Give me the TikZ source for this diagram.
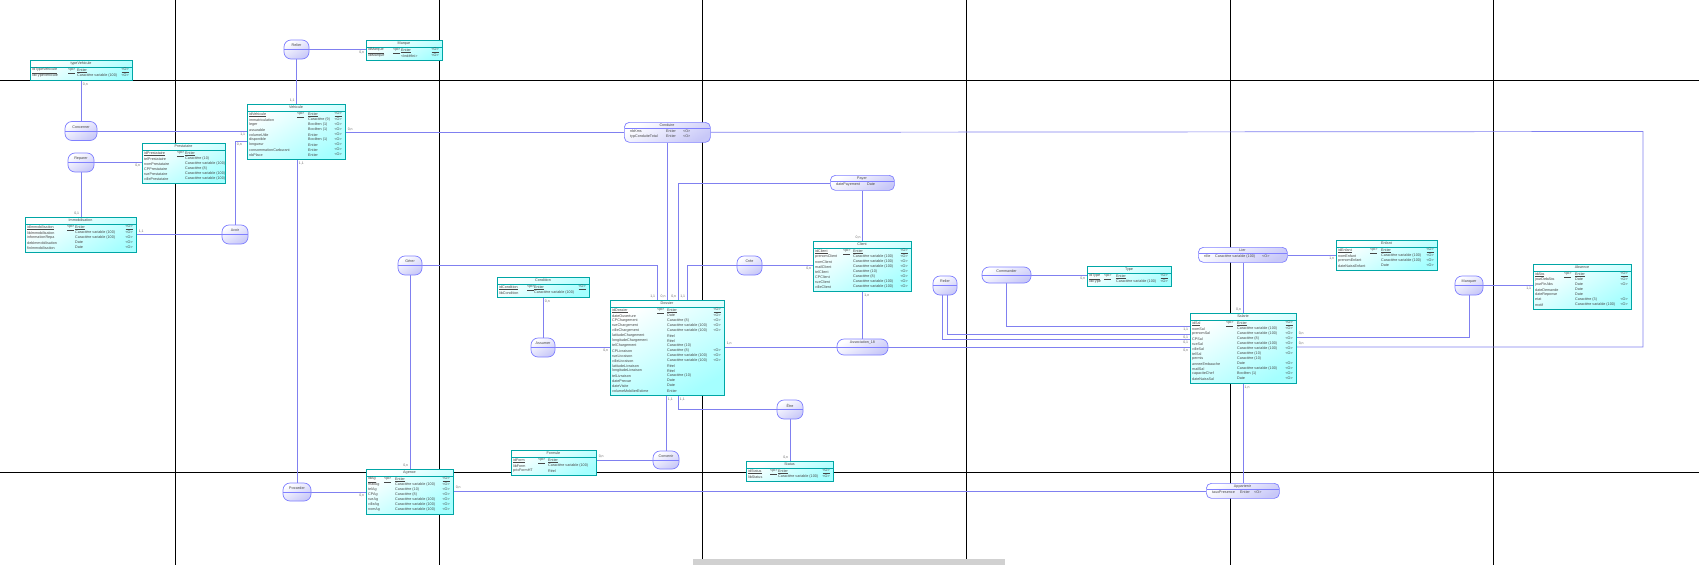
\documentclass[tikz,border=0pt]{standalone}
\usepackage{fontspec}
\setmainfont{Liberation Sans}
\usetikzlibrary{calc,backgrounds}

\definecolor{bordEnt}{RGB}{0,166,166}
\definecolor{fondEnt}{RGB}{165,255,255}
\definecolor{bordAsso}{RGB}{128,128,255}
\definecolor{fondAsso}{RGB}{200,200,248}
\definecolor{lienCol}{RGB}{128,128,240}
\definecolor{texte}{RGB}{70,70,70}
\definecolor{cardCol}{RGB}{110,110,110}

% entite: nom, x, y, largeur, titre, col pi, col type, lignes
\newcommand{\entite}[8]{%
  \gdef\nblignes{0}%
  \foreach \lig in {#8}{\xdef\nblignes{\the\numexpr\nblignes+1\relax}}%
  \node[entite, minimum width=#4, minimum height=10+5*\nblignes, anchor=north west] (#1) at (#2,#3) {};
  \node[titre] at ($(#1.north west)+(#4/2,3.5)$) {#5};
  \draw[draw=bordEnt, line width=.5pt] ($(#1.north west)+(0,6.8)$) -- ($(#1.north east)+(0,6.8)$);
  \foreach[count=\i] \nom/\typ/\obl in {#8}{%
    \ifnum\i=1
      \node[ligne] at ($(#1.north west)+(2,5.7+5*\i)$) {\underline{\nom}};
      \node[ligne] at ($(#1.north west)+(#6,5.7+5*\i)$) {\underline{<pi>}};
      \node[ligne] at ($(#1.north west)+(#7,5.7+5*\i)$) {\underline{\typ}};
      \node[ligne, anchor=east] at ($(#1.north east)+(-4,5.7+5*\i)$) {\underline{\obl}};
    \else
      \node[ligne] at ($(#1.north west)+(2,5.7+5*\i)$) {\nom};
      \node[ligne] at ($(#1.north west)+(#7,5.7+5*\i)$) {\typ};
      \node[ligne, anchor=east] at ($(#1.north east)+(-4,5.7+5*\i)$) {\obl};
    \fi}%
}

% association simple: nom, x, y (centre), largeur, hauteur, titre
\newcommand{\asso}[6]{%
  \node[asso, minimum width=#4, minimum height=#5] (#1) at (#2,#3) {};
  \draw[draw=bordAsso, line width=.5pt] (#1.west) -- (#1.east);
  \node[titre] at ($(#1)+(0,-4)$) {#6};
}

% association avec attributs: nom, x, y, largeur, titre, col type, col O, lignes
\newcommand{\assoattr}[8]{%
  \gdef\nblignes{0}%
  \foreach \lig in {#8}{\xdef\nblignes{\the\numexpr\nblignes+1\relax}}%
  \node[asso, rounded corners=5pt, minimum width=#4, minimum height=10+5*\nblignes, anchor=north west] (#1) at (#2,#3) {};
  \node[titre] at ($(#1.north west)+(#4/2,3.5)$) {#5};
  \draw[draw=bordAsso, line width=.5pt] ($(#1.north west)+(1,6.5)$) -- ($(#1.north east)+(-1,6.5)$);
  \foreach[count=\i] \nom/\typ/\obl in {#8}{%
    \node[ligne] at ($(#1.north west)+(6,4.5+5*\i)$) {\nom};
    \node[ligne] at ($(#1.north west)+(#6,4.5+5*\i)$) {\typ};
    \node[ligne] at ($(#1.north west)+(#7,4.5+5*\i)$) {\obl};}%
}

\begin{document}
\begin{tikzpicture}[x=1pt, y=-1pt,
    entite/.style={draw=bordEnt, line width=.9pt, top color=white, bottom color=fondEnt, shading angle=30, inner sep=0pt},
    asso/.style={draw=bordAsso, line width=.7pt, rounded corners=7pt, top color=white, bottom color=fondAsso, shading angle=30, inner sep=0pt},
    titre/.style={font=\fontsize{3.7}{4}\selectfont, text=texte, inner sep=0pt},
    ligne/.style={font=\fontsize{3.7}{4}\selectfont, text=texte, inner sep=0pt, anchor=west},
    lien/.style={draw=lienCol, line width=.7pt},
    card/.style={font=\fontsize{3.5}{4}\selectfont, text=cardCol, inner sep=1.5pt},
    grille/.style={draw=black, line width=1pt}
]
\useasboundingbox (0,0) rectangle (1699,565);

% Entites
\entite{typevehicule}{30}{60}{102}{typeVehicule}{38}{47}{idTypeVehicule/Entier/<O>, libTypeVehicule/Caractère variable (100)/<O>}
\entite{marque}{366}{40}{76}{Marque}{27}{35}{idMarque/Entier/<O>, libMarque/<Indéfini>/<O>}
\entite{vehicule}{247}{104}{98}{Vehicule}{50}{61}{idVehicule/Entier/<O>, immatriculation/Caractère (9)/<O>, leger/Booléen (1)/<O>, assurable/Booléen (1)/<O>, volumeUtile/Entier/<O>, disponible/Booléen (1)/<O>, longueur/Entier/<O>, consommationCarburant/Entier/<O>, nbPlace/Entier/<O>}
\entite{prestataire}{142}{143}{83}{Prestataire}{35}{43}{idPrestataire/Entier/{}, telPrestataire/Caractère (10)/{}, nomPrestataire/Caractère variable (100)/{}, CPPrestataire/Caractère (8)/{}, ruePrestataire/Caractère variable (100)/{}, villePrestataire/Caractère variable (100)/{}}
\entite{immobilisation}{25}{217}{111}{Immobilisation}{42}{50}{idImmobilisation/Entier/<O>, libImmobilisation/Caractère variable (100)/<O>, informationRepa/Caractère variable (100)/<O>, debImmobilisation/Date/<O>, finImmobilisation/Date/<O>}
\entite{condition}{497}{277}{92}{Condition}{30}{37}{idCondition/Entier/<O>, libCondition/Caractère variable (100)/{}}
\entite{dossier}{610}{300}{114}{Dossier}{47}{57}{idDossier/Entier/<O>, dateOuverture/Date/<O>, CPChargement/Caractère (8)/<O>, rueChargement/Caractère variable (100)/<O>, villeChargement/Caractère variable (100)/<O>, latitudeChargement/Réel/{}, longitudeChargement/Réel/{}, telChargement/Caractère (10)/{}, CPLivraison/Caractère (8)/<O>, rueLivraison/Caractère variable (100)/<O>, villeLivraison/Caractère variable (100)/<O>, latitudeLivraison/Réel/{}, longitudeLivraison/Réel/{}, telLivraison/Caractère (10)/{}, datePrevue/Date/{}, dateVisite/Date/{}, volumeMobilierEstime/Entier/{}}
\entite{client}{813}{241}{98}{Client}{30}{40}{idClient/Entier/<O>, prenomClient/Caractère variable (100)/<O>, nomClient/Caractère variable (100)/<O>, mailClient/Caractère variable (100)/<O>, telClient/Caractère (10)/<O>, CPClient/Caractère (8)/<O>, rueClient/Caractère variable (100)/<O>, villeClient/Caractère variable (100)/<O>}
\entite{status}{746}{461}{87}{Status}{24}{32}{idStatus/Entier/<O>, libStatus/Caractère variable (100)/<O>}
\entite{formule}{511}{450}{85}{Formule}{27}{37}{idForm/Entier/{}, libForm/Caractère variable (100)/{}, prixFormHT/Réel/{}}
\entite{agence}{366}{469}{87}{Agence}{18}{29}{idAg/Entier/<O>, mailAg/Caractère variable (100)/<O>, telAg/Caractère (10)/<O>, CPAg/Caractère (8)/<O>, rueAg/Caractère variable (100)/<O>, villeAg/Caractère variable (100)/<O>, nomAg/Caractère variable (100)/<O>}
\entite{typecmd}{1087}{266}{84}{Type}{17}{29}{idType/Entier/<O>, libType/Caractère variable (100)/<O>}
\entite{salarie}{1190}{313}{106}{Salarie}{36}{47}{idSal/Entier/<O>, nomSal/Caractère variable (100)/<O>, prenomSal/Caractère variable (100)/<O>, CPSal/Caractère (8)/<O>, rueSal/Caractère variable (100)/<O>, villeSal/Caractère variable (100)/<O>, telSal/Caractère (10)/<O>, permis/Caractère (10)/{}, anneeEmbauche/Date/<O>, mailSal/Caractère variable (100)/<O>, capaciteChef/Booléen (1)/<O>, dateNaissSal/Date/<O>}
\entite{enfant}{1336}{240}{101}{Enfant}{34}{45}{idEnfant/Entier/<O>, nomEnfant/Caractère variable (100)/<O>, prenomEnfant/Caractère variable (100)/<O>, dateNaissEnfant/Date/<O>}
\entite{absence}{1533}{264}{98}{Absence}{31}{42}{idAbs/Entier/<O>, jourDebAbs/Date/<O>, jourFinAbs/Date/<O>, dateDemande/Date/{}, dateReponse/Date/{}, etat/Caractère (3)/<O>, motif/Caractère variable (100)/<O>}

% Associations
\asso{concerner}{81}{131}{32}{19}{Concerner}
\asso{reparer}{81}{162.5}{26}{19}{Reparer}
\asso{avoir}{235}{234.5}{26}{19}{Avoir}
\asso{relier}{296.5}{49.5}{25}{19}{Relier}
\asso{posseder}{297}{492}{28}{18}{Posseder}
\asso{gerer}{410}{265.5}{24}{19}{Gérer}
\asso{assumer}{543}{347.5}{24}{19}{Assumer}
\asso{convenir}{666}{460}{26}{18}{Convenir}
\asso{etre}{790}{409.5}{26}{19}{Être}
\asso{cree}{749.5}{265.5}{25}{19}{Crée}
\asso{assoc18}{862.5}{347}{51}{16}{Association\_18}
\asso{relierSal}{945}{285.5}{24}{19}{Relier}
\asso{commander}{1006.5}{275}{49}{16}{Commander}
\asso{manquer}{1469}{285.5}{28}{19}{Manquer}
\assoattr{conduire}{624}{122}{86}{Conduire}{42}{59}{nbKms/Entier/<O>, typConduiteTotal/Entier/<O>}
\assoattr{payer}{830}{175}{64}{Payer}{37}{0}{datePayement/Date/{}}
\assoattr{lier}{1198}{247}{89}{Lier}{17}{64}{rôle/Caractère variable (100)/<O>}
\assoattr{appartenir}{1206}{483}{73}{Appartenir}{34}{48}{tauxPresence/Entier/<O>}

\coordinate (coinConduire) at (1643,131.5);

\begin{pgfonlayer}{background}
% Fond et grille
\fill[white] (0,0) rectangle (1699,565);
\foreach \gx in {175.5,439,702,966,1230,1493}
  \draw[grille] (\gx,0) -- (\gx,565);
\foreach \gy in {80,472}
  \draw[grille] (0,\gy) -- (1699,\gy);
\fill[black!18] (693,559) rectangle (1005,565);

% Liens
\draw[lien] (relier) -- (relier -| marque.west) node[card, at end, anchor=north east] {0,n};
\draw[lien] (relier) -- (relier |- vehicule.north) node[card, at end, anchor=south east] {1,1};
\draw[lien] (concerner) -- (concerner |- typevehicule.south) node[card, at end, anchor=north west] {0,n};
\draw[lien] (concerner) -- (concerner -| vehicule.west) node[card, at end, anchor=north east] {1,1};
\draw[lien] (reparer) -- (reparer -| prestataire.west) node[card, at end, anchor=north east] {0,n};
\draw[lien] (reparer) -- (reparer |- immobilisation.north) node[card, at end, anchor=south east] {0,1};
\draw[lien] (avoir) -- (avoir -| immobilisation.east) node[card, at end, anchor=south west] {1,1};
\draw[lien] (avoir) |- ($(vehicule.north west)+(0,37)$) node[card, pos=0.5, anchor=north west] {0,n};
\draw[lien] (posseder) -- (posseder |- vehicule.south) node[card, at end, anchor=north west] {1,1};
\draw[lien] (posseder) -- (posseder -| agence.west) node[card, at end, anchor=north east] {0,n};
\draw[lien] (gerer) -- (gerer |- agence.north) node[card, at end, anchor=south east] {0,n};
\draw[lien] (gerer) -| ($(dossier.north west)+(47,0)$) node[card, at end, anchor=south east] {1,1};
\draw[lien] (conduire) -- (conduire -| vehicule.east) node[card, at end, anchor=south west] {0,n};
\draw[lien] (conduire) -- (conduire |- dossier.north) node[card, at end, anchor=south east] {0,n};
\draw[lien] (conduire) -- (coinConduire) |- ($(salarie.north east)+(0,34)$) node[card, at end, anchor=south west] {0,n};
\draw[lien] (payer) -| ($(dossier.north west)+(68,0)$) node[card, at end, anchor=south east] {0,n};
\draw[lien] (payer) -- (payer |- client.north) node[card, at end, anchor=south east] {0,n};
\draw[lien] (cree) -| ($(dossier.north west)+(77,0)$) node[card, at end, anchor=south east] {1,1};
\draw[lien] (cree) -- (cree -| client.west) node[card, at end, anchor=north east] {0,n};
\draw[lien] (assoc18) -- (assoc18 |- client.south) node[card, at end, anchor=north west] {1,n};
\draw[lien] (assoc18) -- (assoc18 -| dossier.east) node[card, at end, anchor=south west] {1,n};
\draw[lien] (assoc18) -- (assoc18 -| salarie.west) node[card, at end, anchor=north east] {0,n};
\draw[lien] (assumer) -- (assumer |- condition.south) node[card, at end, anchor=north west] {0,n};
\draw[lien] (assumer) -- (assumer -| dossier.west) node[card, at end, anchor=north east] {0,n};
\draw[lien] (convenir) -- (convenir -| formule.east) node[card, at end, anchor=south west] {0,n};
\draw[lien] (convenir) -- (convenir |- dossier.south) node[card, at end, anchor=north west] {1,1};
\draw[lien] (etre) -| ($(dossier.south west)+(68,0)$) node[card, at end, anchor=north west] {1,1};
\draw[lien] (etre) -- (etre |- status.north) node[card, at end, anchor=south east] {0,n};
\draw[lien] (appartenir) -- (appartenir -| agence.east) node[card, at end, anchor=south west] {0,n};
\draw[lien] (appartenir) -- (appartenir |- salarie.south) node[card, at end, anchor=north west] {1,n};
\draw[lien] ($(relierSal)+(2,0)$) |- ($(salarie.north west)+(0,21)$) node[card, at end, anchor=north east] {0,1};
\draw[lien] ($(relierSal)+(-3,0)$) |- ($(salarie.north west)+(0,26)$) node[card, at end, anchor=north east] {0,1};
\draw[lien] (commander) -- (commander -| typecmd.west) node[card, at end, anchor=north east] {0,n};
\draw[lien] (commander) |- ($(salarie.north west)+(0,13)$) node[card, at end, anchor=north east] {1,1};
\draw[lien] (lier) -- (lier |- salarie.north) node[card, at end, anchor=south east] {0,n};
\draw[lien] (lier) -- (lier -| enfant.west) node[card, at end, anchor=north east] {1,n};
\draw[lien] (manquer) -- (manquer -| absence.west) node[card, at end, anchor=north east] {1,1};
\draw[lien] (manquer) |- ($(salarie.north east)+(0,24)$) node[card, at end, anchor=south west] {0,n};
\end{pgfonlayer}
\end{tikzpicture}
\end{document}
